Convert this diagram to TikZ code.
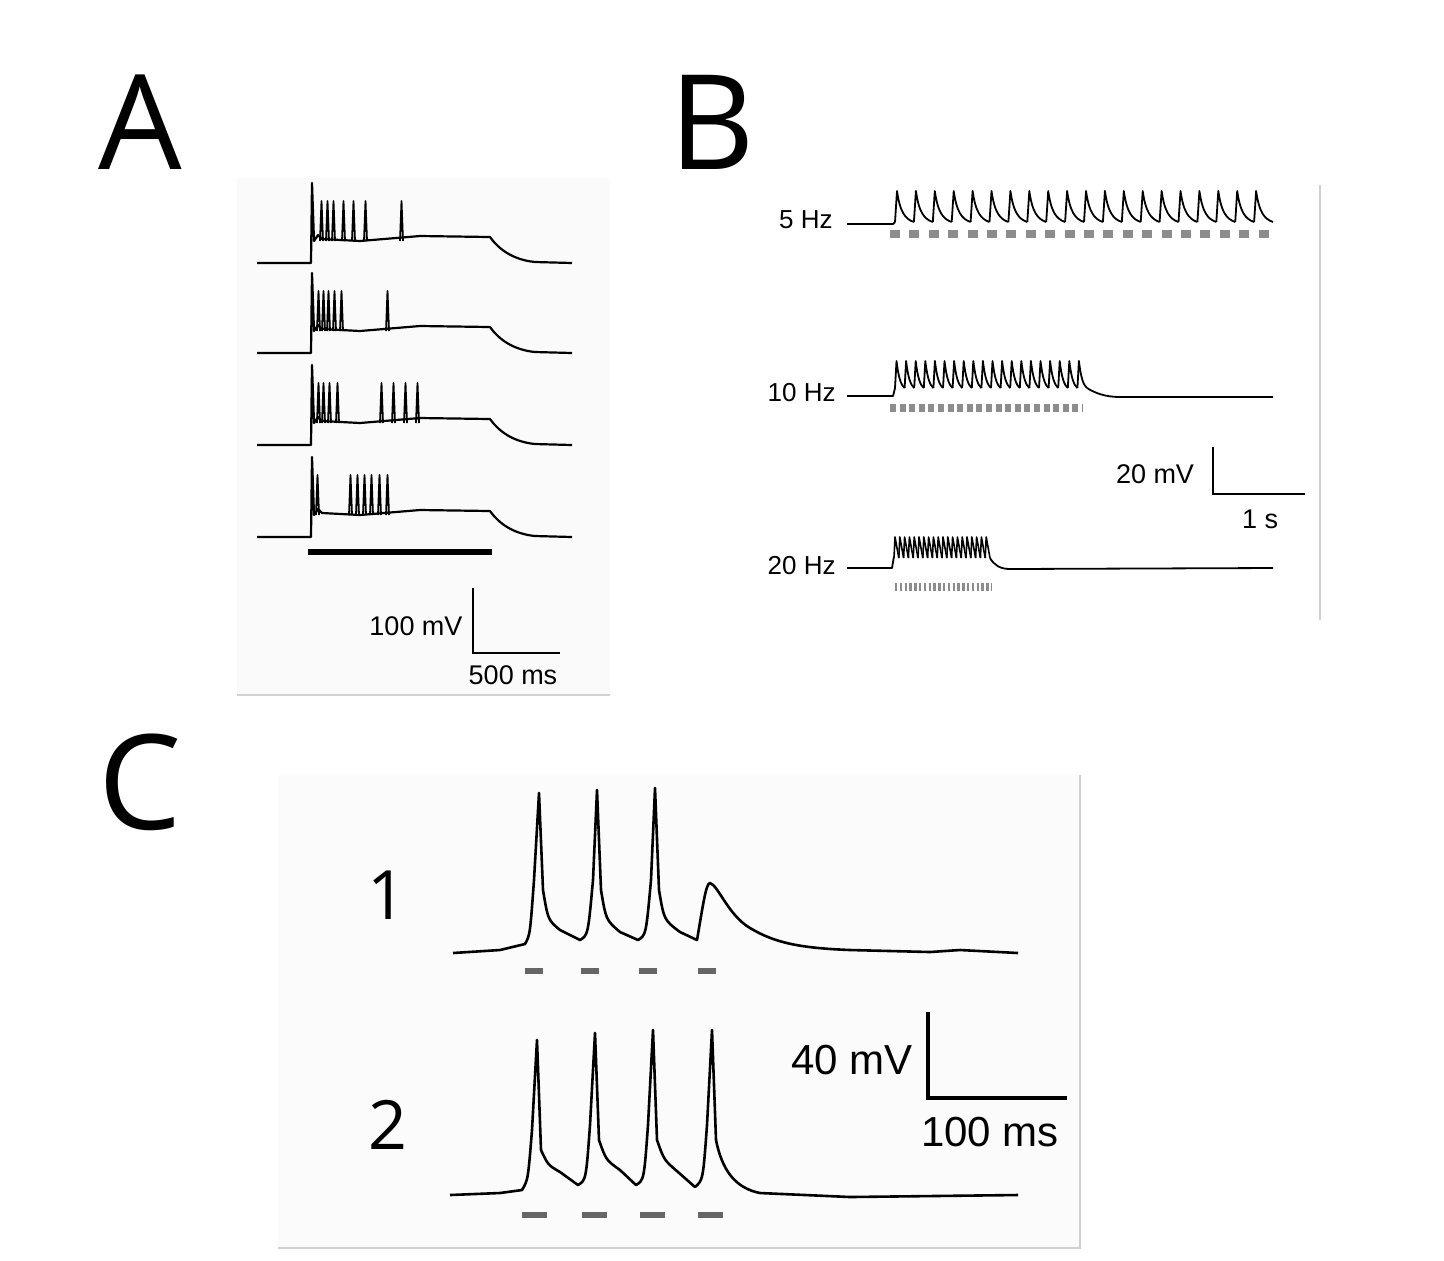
\documentclass[tikz,border=0pt]{standalone}
\usepackage{fontspec}
\setmainfont{Liberation Sans}
\newfontfamily\letterfont{Open Sans}
\begin{document}
\begin{tikzpicture}[x=0.5pt,y=-0.5pt,
  tr/.style={line width=1.1pt,line join=round},
  frame/.style={draw=black!18,line width=0.6pt},
  sb/.style={line width=1.4pt},
  lbl/.style={font=\fontsize{13}{15}\selectfont,inner sep=0pt},
  big/.style={font=\letterfont\fontsize{66}{70}\selectfont,inner sep=0pt},
  num/.style={font=\letterfont\fontsize{34}{36}\selectfont,inner sep=0pt}]
\useasboundingbox (0,0) rectangle (1444,1260);
% letters
\node[big] (A) at (140,122) {A};
\node[big] (B) at (712,122) {B};
\node[big] (C) at (140,782) {C};
% ===== Panel A =====
\fill[black!2] (237,178) rectangle (610,694);
\draw[frame] (237,695) -- (610,695);
\foreach \b/\sp in {263/{320,326,332,342,352,364,400},353/{317,322,327,333,340,386},445/{317,322,328,336,380,392,404,416},537/{316,349,356,363,370,378,386}}{
  \draw[tr] (257,\b) -- (311,\b) -- (312,\b-80) -- (314,\b-22) -- (318,\b-28) -- (322,\b-24)
    -- (360,\b-22) -- (420,\b-27) -- (490,\b-26) .. controls (500,\b-12) and (515,\b-3) .. (535,\b-1) -- (572,\b);
  \foreach \s in \sp {\draw[tr,line width=0.9pt] (\s,\b-22) -- (\s+1.5,\b-62) -- (\s+3,\b-22);}
}
\draw[line width=3pt] (308,552) -- (492,552);
\coordinate (asb) at (473,653);
\draw[sb] (473,588) -- (asb) -- (560,653);
\node[lbl,font=\fontsize{13.5}{15}\selectfont] (a100) at (416,626) {100 mV};
\node[lbl,font=\fontsize{13.5}{15}\selectfont] (a500) at (513,675) {500 ms};
% ===== Panel B =====
\draw[frame] (1320,185) -- (1320,620);
% 5 Hz
\node[lbl,anchor=east] (b5) at (833,220) {5 Hz};
\draw[tr,line width=0.9pt] (847,224) -- (893,224) -- (895,222);
\foreach \i in {0,...,19}{
  \pgfmathsetmacro{\xx}{895+18.9*\i}
  \draw[tr,line width=0.9pt] (\xx,222) -- (\xx+2,191) .. controls (\xx+5,212) and (\xx+10,219) .. (\xx+18.9,222);
}
\draw[black!45,line width=4pt,dash pattern=on 5pt off 4.7pt] (890,234) -- (1277,234);
% 10 Hz
\node[lbl,anchor=east] (b10) at (836,393) {10 Hz};
\draw[tr,line width=0.9pt] (847,396) -- (893,396) -- (895,388);
\foreach \i in {0,...,19}{
  \pgfmathsetmacro{\xx}{895+9.6*\i}
  \draw[tr,line width=0.9pt] (\xx,388) -- (\xx+1.5,361) .. controls (\xx+3.5,378) and (\xx+6,385) .. (\xx+9.6,388);
}
\draw[tr,line width=0.9pt] (1087,388) .. controls (1095,393) and (1105,397) .. (1120,397) -- (1273,397);
\draw[black!45,line width=4pt,dash pattern=on 3pt off 1.8pt] (890,408) -- (1083,408);
% 20 Hz
\node[lbl,anchor=east] (b20) at (836,566) {20 Hz};
\draw[tr,line width=0.9pt] (847,568) -- (892,568) -- (894,556);
\foreach \i in {0,...,19}{
  \pgfmathsetmacro{\xx}{894+4.8*\i}
  \draw[tr,line width=0.8pt] (\xx,558) -- (\xx+1,537) -- (\xx+4.8,558);
}
\draw[tr,line width=0.9pt] (990,558) .. controls (994,565) and (1000,569) .. (1010,569) -- (1273,568);
\draw[black!45,line width=4pt,dash pattern=on 1.2pt off 1.2pt] (895,587) -- (992,587);
% scale bar
\coordinate (bsb) at (1213,494);
\draw[sb] (1213,447) -- (bsb) -- (1305,494);
\node[lbl,font=\fontsize{13.5}{15}\selectfont] (b20mv) at (1155,474) {20 mV};
\node[lbl,font=\fontsize{13.5}{15}\selectfont] (b1s) at (1260,519) {1 s};
% ===== Panel C =====
\fill[black!1.5] (278,775) rectangle (1080,1248);
\draw[frame] (278,1248) -- (1080,1248) -- (1080,775);
\node[num] (c1) at (387,895) {1};
\node[num] (c2) at (388,1125) {2};
% trace 1
\draw[tr,line width=1.3pt] (453,953) -- (500,950) -- (525,944)
  .. controls (530,935) .. (534,880) -- (539,793) -- (543,890) .. controls (548,920) .. (560,930) -- (580,940) .. controls (588,935) .. (593,880) -- (597,790) -- (601,890) .. controls (606,920) .. (620,932) -- (638,940) .. controls (646,935) .. (651,880) -- (655,788) -- (659,890) .. controls (664,920) .. (680,932) -- (697,940)
  .. controls (703,905) and (706,883) .. (710,883) .. controls (718,885) and (728,915) .. (750,928) .. controls (775,943) and (800,948) .. (850,950) -- (930,952) -- (960,950) -- (1018,953);
\foreach \xx in {525,581,639,698}{\draw[black!60,line width=3pt] (\xx,971) -- ++(18,0);}
% trace 2
\draw[tr,line width=1.3pt] (450,1195) -- (500,1193) -- (522,1190)
  .. controls (528,1180) .. (532,1130) -- (537,1040) -- (541,1150) .. controls (548,1165) .. (560,1172) -- (578,1185) .. controls (586,1180) .. (590,1125) -- (595,1033) -- (599,1140) .. controls (606,1160) .. (620,1170) -- (636,1185) .. controls (644,1180) .. (648,1125) -- (653,1030) -- (657,1140) .. controls (664,1160) .. (678,1172) -- (695,1187) .. controls (703,1180) .. (707,1125) -- (712,1030) -- (716,1140) .. controls (722,1170) and (735,1188) .. (760,1193) -- (850,1197) -- (1018,1195);
\foreach \xx in {522,582,640,698}{\draw[black!60,line width=3pt] (\xx,1215) -- ++(25,0);}
% scale bar
\coordinate (csb) at (928,1098);
\draw[sb,line width=1.6pt] (928,1012) -- (csb) -- (1067,1098);
\node[lbl,font=\fontsize{21}{24}\selectfont] (c40) at (852,1060) {40 mV};
\node[lbl,font=\fontsize{21}{24}\selectfont] (c100) at (990,1132) {100 ms};
\end{tikzpicture}
\end{document}
